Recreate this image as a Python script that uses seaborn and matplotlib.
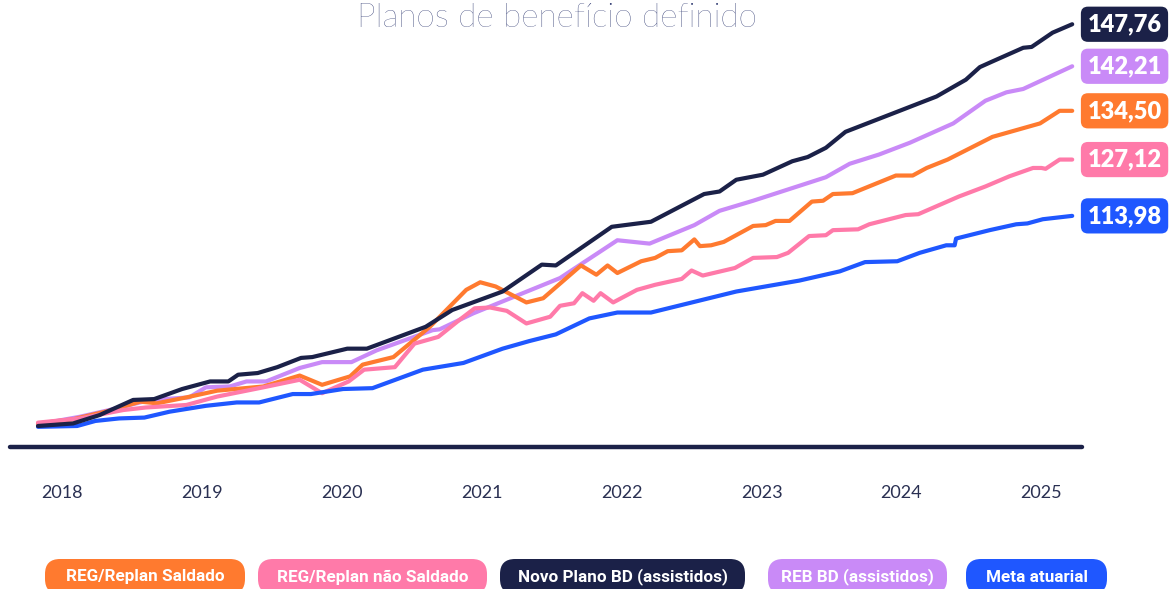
import pandas as pd
import seaborn as sns
import matplotlib.pyplot as plt
from matplotlib.patches import FancyBboxPatch
from matplotlib.transforms import IdentityTransform

# planos (na ordem da legenda)
planos = ["REG/Replan Saldado", "REG/Replan não Saldado", "Novo Plano BD (assistidos)",
          "REB BD (assistidos)", "Meta atuarial"]
cores = ["#ff7a2f", "#ff7aa9", "#1b2148", "#c98af7", "#1f57ff"]
ultimos = ["134,50", "127,12", "147,76", "142,21", "113,98"]
anos = [2018, 2019, 2020, 2021, 2022, 2023, 2024, 2025]

# indice acumulado (base ~100)
saldado_t = [2017.83, 2018.08, 2018.36, 2018.56, 2018.68, 2018.89, 2019.11, 2019.44, 2019.70, 2019.86,
             2020.06, 2020.15, 2020.37, 2020.63, 2020.89, 2020.99, 2021.10, 2021.32, 2021.44, 2021.71,
             2021.82, 2021.90, 2021.97, 2022.14, 2022.24, 2022.33, 2022.43, 2022.52, 2022.56, 2022.64,
             2022.73, 2022.94, 2023.03, 2023.10, 2023.20, 2023.36, 2023.44, 2023.51, 2023.65, 2023.96,
             2024.08, 2024.18, 2024.33, 2024.65, 2024.99, 2025.13, 2025.22]
saldado_v = [100.2, 100.7, 101.8, 102.8, 102.6, 103.3, 104.1, 104.6, 105.9, 104.8,
             105.8, 107.2, 108.1, 111.7, 116.1, 117.0, 116.5, 114.6, 115.1, 119.0,
             117.9, 119.0, 118.1, 119.5, 119.9, 120.7, 120.8, 122.1, 121.3, 121.4,
             121.8, 123.7, 123.8, 124.3, 124.3, 126.6, 126.7, 127.5, 127.6, 129.7,
             129.7, 130.6, 131.6, 134.3, 135.9, 137.4, 137.4]

nao_saldado_t = [2017.83, 2018.13, 2018.44, 2018.60, 2018.89, 2019.11, 2019.44, 2019.70, 2019.86, 2020.05,
                 2020.16, 2020.38, 2020.52, 2020.69, 2020.84, 2020.95, 2021.06, 2021.18, 2021.32, 2021.49,
                 2021.56, 2021.66, 2021.72, 2021.80, 2021.85, 2021.94, 2022.11, 2022.24, 2022.43, 2022.50,
                 2022.58, 2022.81, 2022.94, 2023.11, 2023.19, 2023.34, 2023.46, 2023.51, 2023.69, 2023.77,
                 2024.03, 2024.12, 2024.41, 2024.60, 2024.77, 2024.94, 2025.00, 2025.03, 2025.13, 2025.22]
nao_saldado_v = [100.3, 100.8, 101.8, 102.1, 102.4, 103.4, 104.5, 105.4, 103.8, 105.2,
                 106.6, 106.9, 109.7, 110.5, 112.5, 113.9, 114.0, 113.6, 112.1, 112.9,
                 114.2, 114.5, 115.7, 114.8, 115.7, 114.6, 116.1, 116.7, 117.4, 118.4,
                 117.8, 118.7, 119.9, 120.0, 120.5, 122.5, 122.6, 123.2, 123.3, 123.9,
                 125.0, 125.1, 127.2, 128.4, 129.6, 130.6, 130.6, 130.5, 131.6, 131.6]

novo_t = [2017.83, 2018.08, 2018.27, 2018.51, 2018.66, 2018.86, 2019.06, 2019.19, 2019.26, 2019.40,
          2019.54, 2019.71, 2019.79, 2020.04, 2020.18, 2020.60, 2020.79, 2021.15, 2021.43, 2021.53,
          2021.93, 2022.21, 2022.59, 2022.70, 2022.82, 2023.01, 2023.22, 2023.33, 2023.46, 2023.60,
          2024.25, 2024.46, 2024.56, 2024.64, 2024.87, 2024.93, 2025.08, 2025.22]
novo_v = [99.9, 100.2, 101.2, 103.0, 103.1, 104.3, 105.2, 105.2, 106.0, 106.2,
          106.9, 108.0, 108.1, 109.1, 109.1, 111.7, 113.7, 115.9, 119.1, 119.0,
          123.6, 124.2, 127.5, 127.8, 129.2, 129.8, 131.4, 131.9, 133.0, 134.9,
          139.1, 141.1, 142.6, 143.2, 144.9, 145.0, 146.7, 147.7]

reb_t = [2017.83, 2018.13, 2018.34, 2018.63, 2018.91, 2019.03, 2019.20, 2019.32, 2019.46, 2019.70,
         2019.86, 2020.07, 2020.25, 2020.65, 2020.70, 2020.94, 2021.56, 2021.97, 2022.20, 2022.52,
         2022.70, 2022.94, 2023.46, 2023.63, 2023.84, 2024.06, 2024.37, 2024.60, 2024.75, 2024.87,
         2025.22]
reb_v = [100.1, 101.0, 101.8, 103.0, 103.3, 104.5, 104.6, 105.2, 105.2, 106.8,
         107.5, 107.5, 108.9, 111.3, 111.4, 113.3, 117.5, 122.0, 121.6, 123.8,
         125.5, 126.7, 129.5, 131.1, 132.2, 133.6, 135.9, 138.6, 139.6, 140.0,
         142.7]

meta_t = [2017.83, 2018.11, 2018.24, 2018.41, 2018.59, 2018.77, 2019.03, 2019.25, 2019.41, 2019.65,
          2019.78, 2020.01, 2020.22, 2020.58, 2020.87, 2021.15, 2021.34, 2021.53, 2021.77, 2021.97,
          2022.21, 2022.82, 2023.27, 2023.56, 2023.74, 2023.97, 2024.13, 2024.32, 2024.38, 2024.39,
          2024.63, 2024.82, 2024.90, 2025.01, 2025.22]
meta_v = [99.8, 99.9, 100.5, 100.8, 100.9, 101.6, 102.3, 102.7, 102.7, 103.7,
          103.7, 104.3, 104.4, 106.6, 107.4, 109.1, 110.0, 110.8, 112.7, 113.4,
          113.4, 115.9, 117.2, 118.3, 119.4, 119.5, 120.5, 121.4, 121.4, 122.2,
          123.2, 123.9, 124.0, 124.5, 124.9]

dados = [(saldado_t, saldado_v), (nao_saldado_t, nao_saldado_v), (novo_t, novo_v),
         (reb_t, reb_v), (meta_t, meta_v)]

df = pd.concat([pd.DataFrame({"ano": t, "indice": v, "plano": p})
                for p, (t, v) in zip(planos, dados)], ignore_index=True)

sns.set_style("white")
plt.rcParams["font.family"] = ["Lato", "DejaVu Sans"]

navy = "#1b2148"
W, H = 1171, 589
fig = plt.figure(figsize=(W / 100, H / 100), dpi=100)
ax = fig.add_axes([10 / W, 142 / H, 1072 / W, 432 / H])

ordem = ["REB BD (assistidos)", "REG/Replan Saldado", "REG/Replan não Saldado",
         "Meta atuarial", "Novo Plano BD (assistidos)"]
sns.lineplot(data=df, x="ano", y="indice", hue="plano", hue_order=ordem,
             palette=dict(zip(planos, cores)), estimator=None, sort=False,
             lw=3, legend=False, ax=ax)

ax.set_xlim(2017.63, 2025.29)
ax.set_ylim(97.4, 148.8)
for s in ["left", "right", "top"]:
    ax.spines[s].set_visible(False)
ax.spines["bottom"].set_color(navy)
ax.spines["bottom"].set_linewidth(3.2)
ax.spines["bottom"].set_capstyle("round")
ax.set_xticks(anos)
ax.set_xticklabels([str(a) for a in anos])
ax.tick_params(axis="x", length=0, pad=27, labelsize=13, labelcolor="#2a3052")
ax.set_yticks([])
ax.set_xlabel("")
ax.set_ylabel("")

# rotulos no fim das linhas
for (t, v), txt, cor in zip(dados, ultimos, cores):
    ax.annotate(txt, xy=(t[-1], v[-1]), xytext=(11, 0), textcoords="offset points",
                ha="left", va="center", color="white", fontsize=17, fontweight="heavy",
                bbox=dict(boxstyle="round,pad=0.28,rounding_size=0.3", fc=cor, ec="none"),
                annotation_clip=False)

fig.text(557 / W, 1 - 27 / H, "Planos de benefício definido", ha="center", va="baseline",
         fontsize=24, fontweight="light", color="#1f2a66")

# legenda em "pilulas" (limites em pixels)
leg_x0 = [45, 258, 500, 768, 966]
leg_x1 = [245, 487, 745, 947, 1107]
for nome, cor, x0, x1 in zip(planos, cores, leg_x0, leg_x1):
    pill = FancyBboxPatch((x0, H - 594), x1 - x0, 35, boxstyle="round,pad=0,rounding_size=15",
                          fc=cor, ec="none", transform=IdentityTransform())
    fig.patches.append(pill)
    fig.text((x0 + x1) / 2 / W, 1 - 577 / H, nome, ha="center", va="center", color="white",
             fontsize=12.3, fontweight="bold", family=["Roboto", "DejaVu Sans"])

plt.savefig("out.png", dpi=100)
